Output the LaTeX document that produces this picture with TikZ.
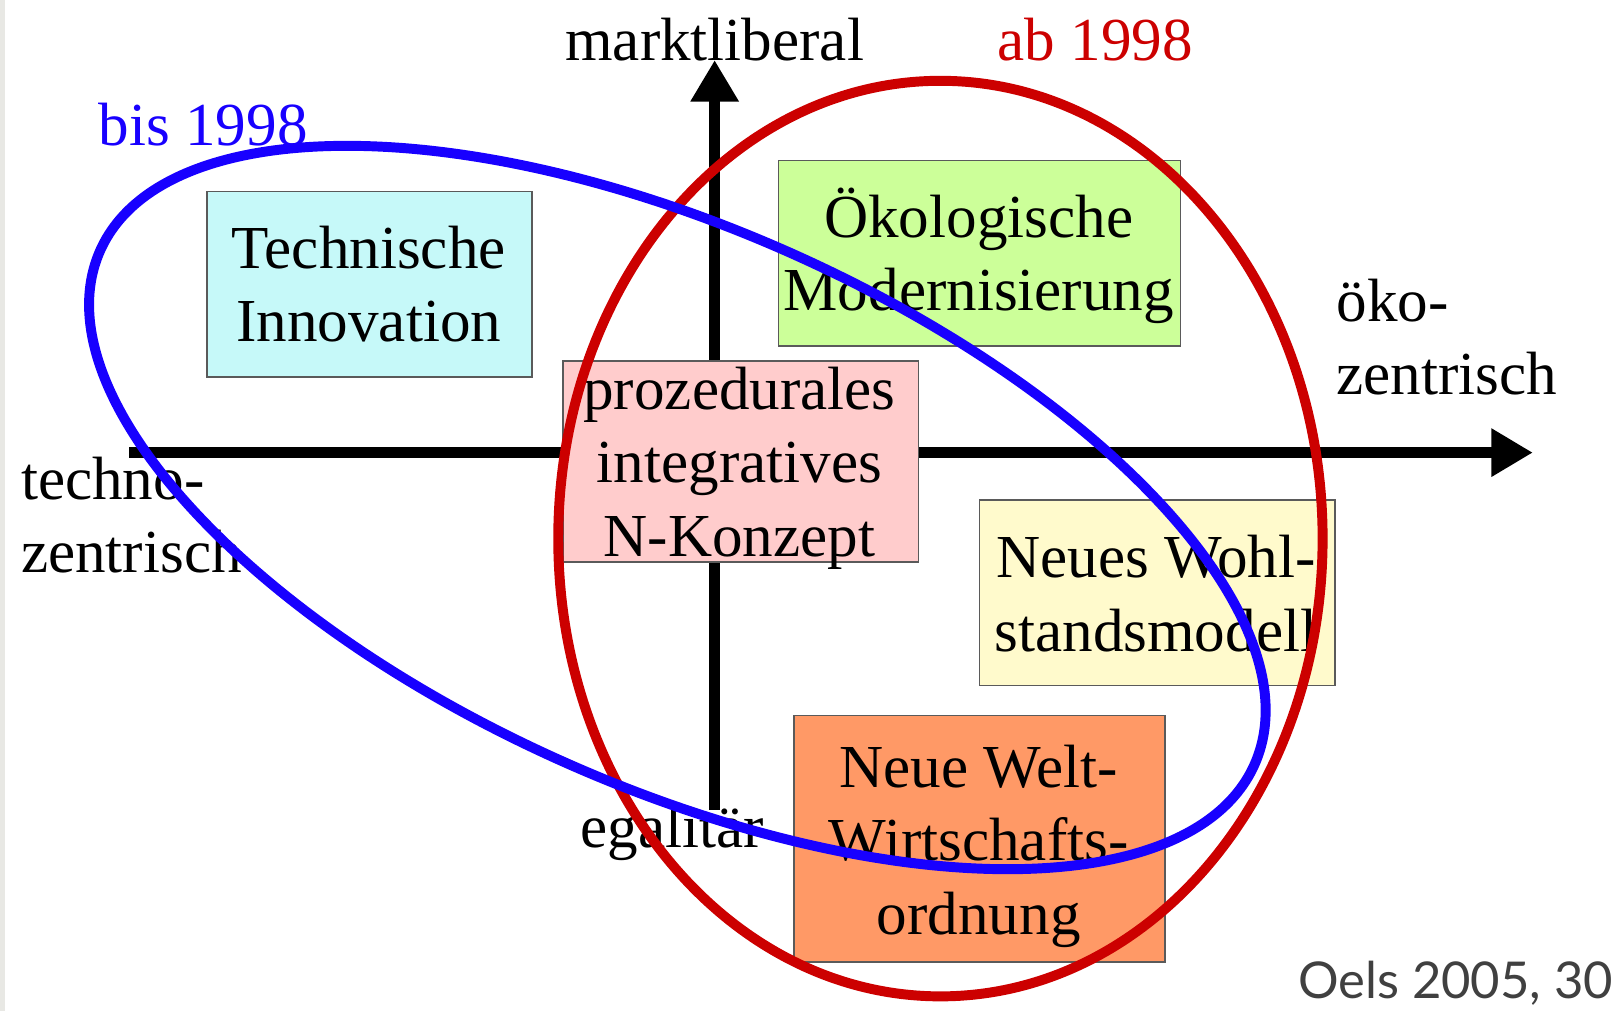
\documentclass[tikz,border=0pt]{standalone}
\usepackage{fontspec}
\setmainfont{Liberation Serif}
\newfontfamily\creditfont{Lato}
\usetikzlibrary{arrows.meta}

\definecolor{techfill}{RGB}{198,249,249}
\definecolor{oekofill}{RGB}{204,255,153}
\definecolor{prozfill}{RGB}{255,204,204}
\definecolor{wohlfill}{RGB}{255,250,204}
\definecolor{weltfill}{RGB}{255,153,102}
\definecolor{boxline}{RGB}{90,90,90}
\definecolor{abred}{RGB}{204,0,0}
\definecolor{bisblue}{RGB}{24,0,255}
\definecolor{creditgray}{RGB}{64,64,64}
\definecolor{edgegray}{RGB}{232,232,228}

% multi-line text whose baseline is that of its first line
\newcommand\stack[2][c]{\begin{tabular}[t]{@{}#1@{}}#2\end{tabular}}

\begin{document}
\begin{tikzpicture}[x=0.5pt,y=-0.5pt,
  txt/.style={font=\fontsize{29.5}{35.5}\selectfont, inner sep=0pt, anchor=base},
  box/.style={draw=boxline, line width=0.8pt, inner sep=0pt, anchor=north west},
  axisline/.style={line width=5pt, -{Triangle[length=20pt,width=22pt]}},
  ring/.style={line width=4.8pt}]

\useasboundingbox (0,0) rectangle (1568,976);
\fill[edgegray] (0,0) rectangle (5,976);

% axes
\coordinate (hstart) at (125,437);
\coordinate (hend)   at (1480,437);
\coordinate (vstart) at (690,782);
\coordinate (vend)   at (690,58);
\draw[axisline] (hstart) -- (hend);
\draw[axisline] (vstart) -- (vend);

% concept boxes
\node[box, fill=techfill, minimum width=157pt, minimum height=89.5pt] (tech) at (199,184) {};
\node[box, fill=oekofill, minimum width=194pt, minimum height=89.5pt] (oeko) at (751,154) {};
\node[box, fill=prozfill, minimum width=171.5pt, minimum height=97pt] (proz) at (543,348) {};
\node[box, fill=wohlfill, minimum width=171.5pt, minimum height=89.5pt] (wohl) at (945,482) {};
\node[box, fill=weltfill, minimum width=179pt, minimum height=119pt] (welt) at (766,690) {};

\node[txt] (techtxt) at (356,259) {\stack{Technische\\Innovation}};
\node[txt] (oekotxt) at (945,229) {\stack{Ökologische\\Modernisierung}};
\node[txt] (proztxt) at (714,395) {\stack{prozedurales\\integratives\\N-Konzept}};
\node[txt] (wohltxt) at (1116,558) {\stack{Neues Wohl-\\standsmodell}};
\node[txt] (welttxt) at (945,760) {\stack{Neue Welt-\\Wirtschafts-\\ordnung}};

% axis labels
\node[txt] (marktlib) at (690,58) {marktliberal};
\node[txt, anchor=base west] (oekozen) at (1290,310) {\stack[l]{öko-\\zentrisch}};
\node[txt, anchor=base west] (technozen) at (20,482) {\stack[l]{techno-\\zentrisch}};
\node[txt, anchor=base west] (egal) at (560,818) {egalitär};

% period labels
\node[txt, anchor=base west, text=abred] (ablbl) at (963,58) {ab 1998};
\node[txt, anchor=base west, text=bisblue] (bislbl) at (95,140) {bis 1998};

% period outlines
\draw[ring, abred] (908,520) ellipse [x radius=369, y radius=442];
\draw[ring, bisblue, rotate around={-24:(654,490)}] (654,490) ellipse [x radius=610, y radius=269];

% source
\node[inner sep=0pt, anchor=base east, font=\creditfont\fontsize{24.5}{30}\selectfont, text=creditgray] (credit) at (1558,964) {Oels 2005, 30};
\end{tikzpicture}
\end{document}
